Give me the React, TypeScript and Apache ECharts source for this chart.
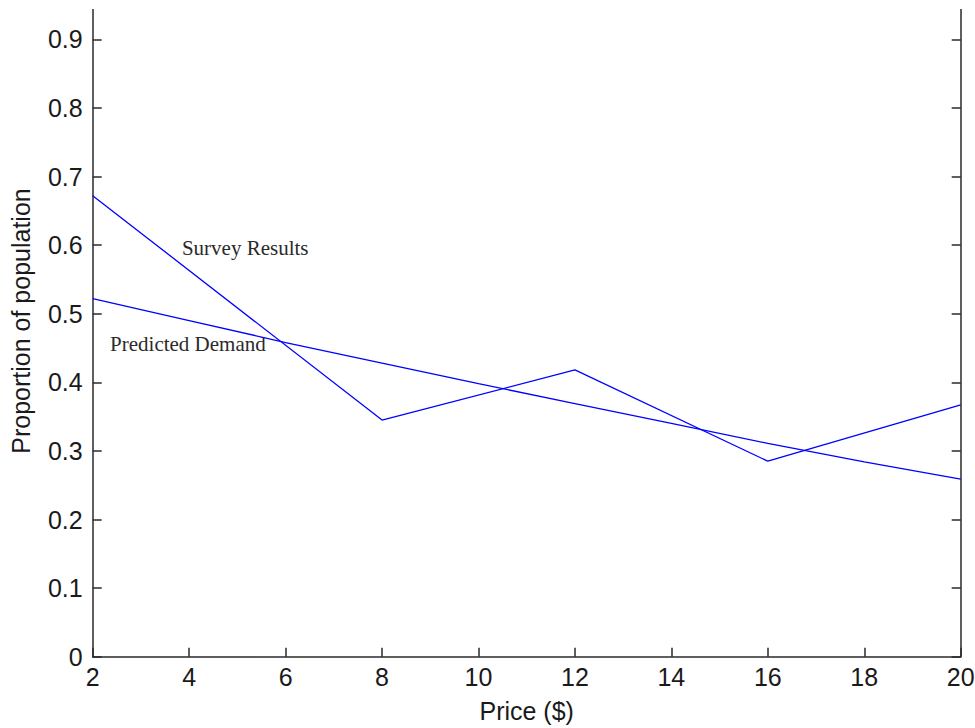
import React, { useEffect, useRef } from "react";
import * as echarts from "echarts";

const surveyPrice = [2, 8, 12, 16, 20];
const surveyValues = [0.672, 0.345, 0.418, 0.285, 0.367];
const predictedPrice = [2, 4, 6, 8, 10, 12, 14, 16, 18, 20];
const predictedValues = [0.522, 0.49, 0.458, 0.428, 0.398, 0.369, 0.34, 0.311, 0.284, 0.259];
const xTicks = [2, 4, 6, 8, 10, 12, 14, 16, 18, 20];
const yTicks = [0, 0.1, 0.2, 0.3, 0.4, 0.5, 0.6, 0.7, 0.8, 0.9, 1];
const annotations = [
  { text: "Survey Results", x: 3.85, y: 0.596 },
  { text: "Predicted Demand", x: 2.36, y: 0.456 },
];

const toPairs = (xs: number[], ys: number[]) => xs.map((x, i) => [x, ys[i]]);

export default function App() {
  const ref = useRef<HTMLDivElement>(null);
  useEffect(() => {
    const chart = echarts.init(ref.current!, null, { renderer: "svg" });
    const sans = "'Liberation Sans', Arial, sans-serif";
    const axisCommon = {
      axisLine: { show: true, lineStyle: { color: "#2a2a2a", width: 1.5 } },
      axisTick: { show: true, inside: true, length: 9, lineStyle: { color: "#2a2a2a", width: 1.5 } },
      splitLine: { show: false },
    };
    chart.setOption({
      animation: false,
      backgroundColor: "#ffffff",
      grid: {
        left: 92.7,
        right: 14.3,
        top: -29.3,
        bottom: 71.3,
        containLabel: false,
        outerBoundsMode: "none",
      },
      xAxis: {
        type: "value",
        min: xTicks[0],
        max: xTicks[xTicks.length - 1],
        interval: 2,
        name: "Price ($)",
        nameLocation: "middle",
        nameGap: 42,
        nameTextStyle: { fontFamily: sans, fontSize: 25, color: "#1a1a1a" },
        ...axisCommon,
        axisLabel: { fontFamily: sans, fontSize: 25, color: "#1a1a1a", margin: 8 },
      },
      yAxis: [
        {
          type: "value",
          min: yTicks[0],
          max: yTicks[yTicks.length - 1],
          interval: 0.1,
          position: "left",
          ...axisCommon,
          axisLabel: {
            fontFamily: sans,
            fontSize: 25,
            color: "#1a1a1a",
            margin: 10,
            showMaxLabel: false,
            formatter: (v: number) => (Math.abs(v) < 1e-9 ? "0" : String(Math.round(v * 10) / 10)),
          },
        },
        {
          type: "value",
          min: yTicks[0],
          max: yTicks[yTicks.length - 1],
          interval: 0.1,
          position: "right",
          ...axisCommon,
          axisLabel: { show: false },
        },
      ],
      series: [
        {
          name: "Survey Results",
          type: "line",
          data: toPairs(surveyPrice, surveyValues),
          showSymbol: false,
          symbol: "none",
          lineStyle: { color: "#0000ff", width: 1.3 },
        },
        {
          name: "Predicted Demand",
          type: "line",
          data: toPairs(predictedPrice, predictedValues),
          showSymbol: false,
          symbol: "none",
          lineStyle: { color: "#0000ff", width: 1.3 },
        },
      ],
    });
    const texts = annotations.map((a) => {
      const p = chart.convertToPixel({ gridIndex: 0 }, [a.x, a.y]) as number[];
      return {
        type: "text",
        x: p[0],
        y: p[1],
        style: {
          text: a.text,
          fontFamily: "'Liberation Serif', 'Times New Roman', serif",
          fontSize: 21,
          fill: "#2a2a2a",
          align: "left",
          verticalAlign: "middle",
        },
      };
    });
    chart.setOption({
      graphic: [
        {
          type: "rect",
          z: 100,
          shape: { x: 0, y: 0, width: 975, height: 9 },
          style: { fill: "#ffffff" },
        },
        {
          type: "text",
          x: 21,
          y: 321,
          rotation: Math.PI / 2,
          style: {
            text: "Proportion of population",
            fontFamily: sans,
            fontSize: 25,
            fill: "#1a1a1a",
            align: "center",
            verticalAlign: "middle",
          },
        },
        ...texts,
      ],
    });
    return () => chart.dispose();
  }, []);
  return (
    <div
      ref={ref}
      style={{ position: "fixed", left: 0, top: 0, width: 975, height: 728, background: "#fff" }}
    />
  );
}
